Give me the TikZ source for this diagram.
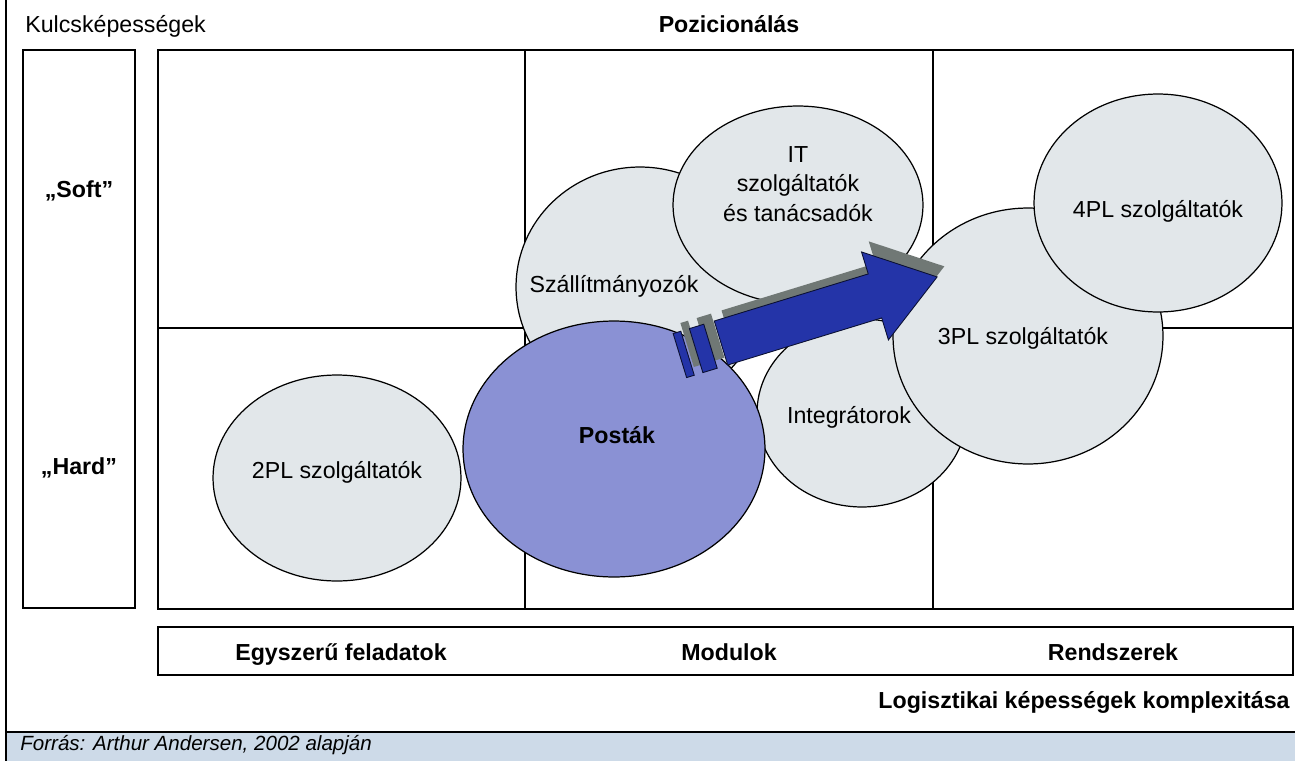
\documentclass[tikz,border=0pt]{standalone}
\usepackage{fontspec}
\setmainfont{Liberation Sans}
\usetikzlibrary{shapes.geometric}

\definecolor{ovalfill}{RGB}{226,231,234}
\definecolor{postafill}{RGB}{138,145,212}
\definecolor{nyilkek}{RGB}{36,52,168}
\definecolor{arnyek}{RGB}{112,120,117}
\definecolor{forrascsik}{RGB}{205,218,232}

\newcommand{\lblsize}{\fontsize{13.2}{16.7}\selectfont}
% arrow with its two small blocks, in the arrow's own frame
\newcommand{\nyilpath}{(0,-23) -- (161,-23) -- (161,-46) -- (226,0) -- (161,46) -- (161,23) -- (0,23) -- cycle
  (-26,-23) rectangle (-11,23)
  (-43,-23) rectangle (-35,23)}

\tikzset{
  box/.style={draw, line width=0.8pt},
  oval/.style={ellipse, draw, line width=0.7pt, fill=ovalfill, inner sep=0pt},
  lbl/.style={font=\lblsize, inner sep=0pt, align=center},
  blbl/.style={font=\lblsize\bfseries, inner sep=0pt}
}

\begin{document}
\begin{tikzpicture}[x=0.02cm, y=-0.02cm]
    \useasboundingbox (0,0) rectangle (1295,761);

    % frame and source bar
    \fill [ forrascsik ] (6,732) rectangle (1295,761);
    \draw [ line width=0.8pt ] (6,732) -- (1295,732);
    \draw [ line width=0.8pt ] (6,0) -- (6,761);
    \node [ font=\fontsize{11.7}{14}\selectfont\itshape, anchor=base west, inner sep=0pt ] (forras) at (20,750) {Forrás: Arthur Andersen, 2002 alapján};

    % grid
    \draw [ box ] (23,50) rectangle (135,608);
    \draw [ box ] (158,50) rectangle (1293,609);
    \draw [ box ] (525,50) -- (525,609);
    \draw [ box ] (933,50) -- (933,609);
    \draw [ box ] (158,328) -- (1293,328);
    \draw [ box ] (158,627) rectangle (1293,675);

    \node [ lbl, anchor=base west ] (kulcs) at (25,32) {Kulcsképességek};
    \node [ blbl, anchor=base ] (pozic) at (729,32) {Pozicionálás};
    \node [ blbl, anchor=base ] (soft) at (79,197) {„Soft”};
    \node [ blbl, anchor=base ] (hard) at (79,474) {„Hard”};
    \node [ blbl, anchor=base ] (egysz) at (341,660) {Egyszerű feladatok};
    \node [ blbl, anchor=base ] (modul) at (729,660) {Modulok};
    \node [ blbl, anchor=base ] (rendsz) at (1113,660) {Rendszerek};
    \node [ blbl, anchor=base east ] (komplex) at (1290,708) {Logisztikai képességek komplexitása};

    % ellipses
    \node [ oval, minimum width=4.96cm, minimum height=4.12cm ] (pl2) at (337,478) {};
    \node [ lbl, anchor=base ] (pl2t) at (337,478) {2PL szolgáltatók};

    \node [ oval, minimum width=4.96cm, minimum height=4.8cm ] (szall) at (640,287) {};
    \node [ lbl, anchor=base ] (szallt) at (614,292) {Szállítmányozók};

    \node [ oval, minimum width=5cm, minimum height=3.96cm ] (itt) at (798,205) {};
    \node [ lbl ] (ittt) at (798,184) {IT\\szolgáltatók\\és tanácsadók};

    \node [ oval, minimum width=4.2cm, minimum height=3.76cm ] (integ) at (862,413) {};
    \node [ lbl, anchor=base ] (integt) at (849,423) {Integrátorok};

    \node [ oval, minimum width=5.4cm, minimum height=5.12cm ] (pl3) at (1028,336) {};
    \node [ lbl, anchor=base ] (pl3t) at (1023,344) {3PL szolgáltatók};

    \node [ oval, minimum width=4.96cm, minimum height=4.36cm ] (pl4) at (1158,203) {};
    \node [ lbl, anchor=base ] (pl4t) at (1158,217) {4PL szolgáltatók};

    \node [ oval, fill=postafill, minimum width=6.04cm, minimum height=5.12cm ] (posta) at (614,449) {};
    \node [ blbl, anchor=base ] (postat) at (617,443) {Posták};

    % arrow
    \begin{scope}[ shift={(721,343)}, rotate=17 ]
        \fill [ arnyek, shift={(10,-8)} ] \nyilpath;
        \draw [ fill=nyilkek, draw=black!70!nyilkek, line width=0.5pt ] \nyilpath;
    \end{scope}
\end{tikzpicture}
\end{document}
